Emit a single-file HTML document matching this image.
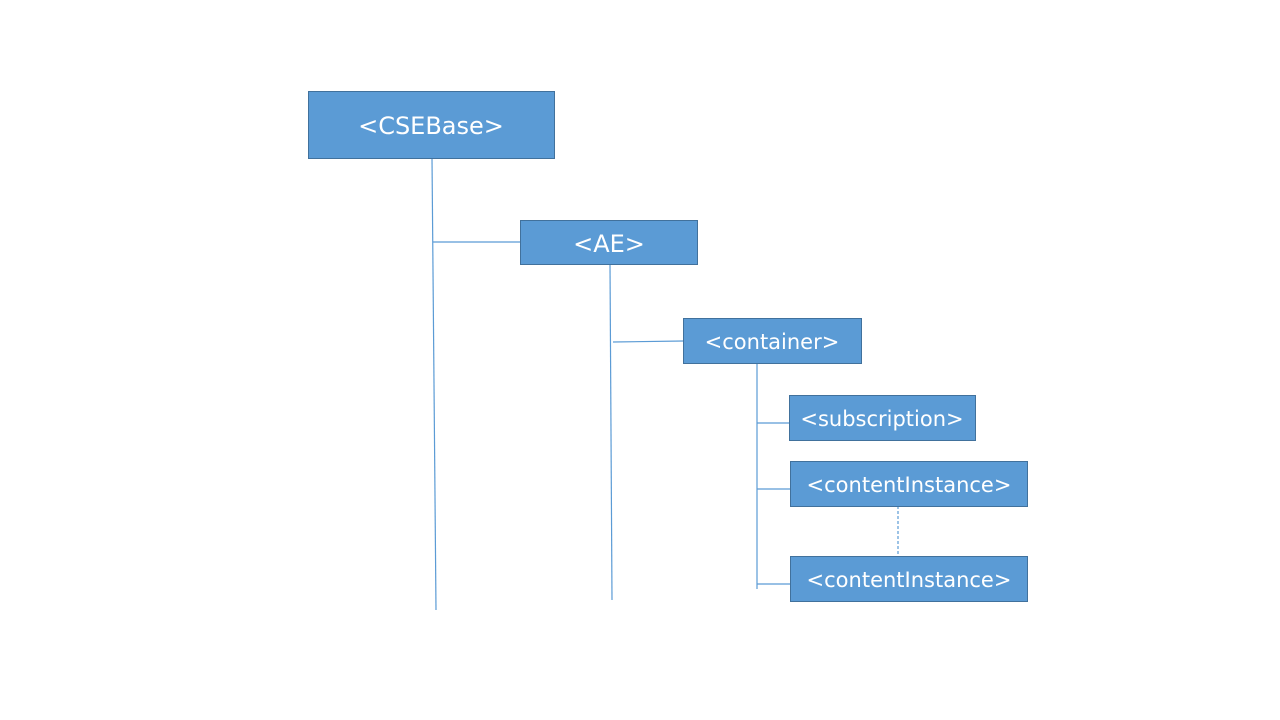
<!DOCTYPE html>
<html><head><meta charset="utf-8"><style>
html,body{margin:0;padding:0;background:#fff}
svg{display:block}
text{font-family:"DejaVu Sans","Liberation Sans",sans-serif;fill:#fff}
</style></head><body>
<svg width="1280" height="720" viewBox="0 0 1280 720">
<g stroke="#5b9bd5" stroke-width="1.2" fill="none">
<line x1="432" y1="158" x2="436" y2="610"/>
<line x1="433" y1="242" x2="521" y2="242"/>
<line x1="610" y1="264" x2="612" y2="600"/>
<line x1="613" y1="342" x2="683" y2="341"/>
<line x1="757" y1="364" x2="757" y2="589"/>
<line x1="757" y1="423" x2="790" y2="423"/>
<line x1="757" y1="489" x2="791" y2="489"/>
<line x1="757" y1="584" x2="791" y2="584"/>
<line x1="898" y1="506" x2="898" y2="556" stroke-dasharray="3,2"/>
</g>
<g fill="#5b9bd5" stroke="#41719c" stroke-width="1">
<rect x="308.5" y="91.5" width="246" height="67"/>
<rect x="520.5" y="220.5" width="177" height="44"/>
<rect x="683.5" y="318.5" width="178" height="45"/>
<rect x="789.5" y="395.5" width="186" height="45"/>
<rect x="790.5" y="461.5" width="237" height="45"/>
<rect x="790.5" y="556.5" width="237" height="45"/>
</g>
<g text-anchor="middle">
<text x="431" y="134" font-size="24">&lt;CSEBase&gt;</text>
<text x="609" y="252" font-size="24">&lt;AE&gt;</text>
<text x="772" y="349" font-size="21">&lt;container&gt;</text>
<text x="882" y="426" font-size="21">&lt;subscription&gt;</text>
<text x="909" y="492" font-size="21">&lt;contentInstance&gt;</text>
<text x="909" y="587" font-size="21">&lt;contentInstance&gt;</text>
</g>
</svg>
</body></html>
